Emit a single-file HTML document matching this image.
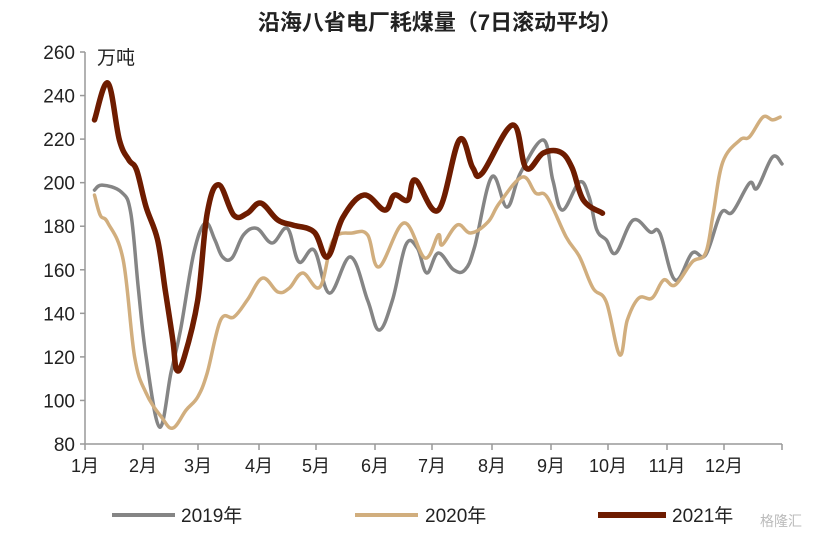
<!DOCTYPE html>
<html><head><meta charset="utf-8"><style>
body{margin:0;background:#fff;width:817px;height:537px;overflow:hidden;font-family:"Liberation Sans","Noto Sans CJK SC",sans-serif}
</style></head><body>
<svg id="chart" width="817" height="537" xmlns="http://www.w3.org/2000/svg" font-family="Liberation Sans, Noto Sans CJK SC, sans-serif">
<text x="440" y="30" text-anchor="middle" font-size="22" font-weight="bold" fill="#222">沿海八省电厂耗煤量（7日滚动平均）</text>
<text x="97" y="64" font-size="19" fill="#222">万吨</text>
<g id="axes"></g>
<g id="series"></g>
<g>
<line x1="112" y1="515" x2="175" y2="515" stroke="#858585" stroke-width="4"/>
<text x="181" y="522" font-size="19" fill="#222">2019年</text>
<line x1="355" y1="515" x2="418" y2="515" stroke="#d1ae7e" stroke-width="4"/>
<text x="425" y="522" font-size="19" fill="#222">2020年</text>
<line x1="598" y1="515" x2="666" y2="515" stroke="#6e1c00" stroke-width="6"/>
<text x="672" y="522" font-size="19" fill="#222">2021年</text>
</g>
<text x="760" y="526" font-size="14" fill="#bbb">格隆汇</text>
</svg>
<script>
const yTicks=[80,100,120,140,160,180,200,220,240,260];
const monthLabels=["1月","2月","3月","4月","5月","6月","7月","8月","9月","10月","11月","12月"];
const monthPx=[85,143,198,259,316,375,432,492,551,608,667,724,782];
const days2019=[5,9,19,24,28,32,39,45,50,57,63,68,72,77,83,90,98,106,112,120,128,139,148,154,161,168,174,179,185,193,199,204,213,221,228,240,245,250,259,264,268,273,278,287,296,301,309,318,325,333,339,348,352,360,365];
const vals2019=[196.6,198.9,195.7,186,150.7,120,87.8,112.6,132.3,167.7,181.5,173.7,165.9,165.4,176,179,172.3,179,163.6,169,149.3,165.9,146,132.3,146,171.4,170,158.5,167.7,160,160,170.5,202.6,188.8,204.4,219.6,201.2,187.4,200.3,193.4,178.3,173.7,167.7,182.8,177.3,176.9,155.3,167.7,166.8,186,186.5,199.8,197.5,211.8,208.6];
const days2020=[5,8,12,20,26,32,40,46,53,59,64,71,78,85,93,101,107,114,123,130,140,148,154,167,178,185,187,195,202,211,217,229,236,242,252,259,266,273,280,284,290,297,303,309,318,325,329,334,343,348,355,360,364];
const vals2020=[194.3,185,181.5,164.5,120,103.4,92.4,87.3,95.6,101.6,112.6,136.9,138.3,146.1,156.2,149.8,151.6,158.5,152.1,173.7,176.9,176,161.3,181.5,165.4,176,171.4,180.6,176.9,181.9,190.6,202.6,195.2,193.4,175,165.9,151.6,145.2,120.9,136.9,147,147,155.3,153,163.6,167.7,186,209.5,219.6,221,230.1,228.8,230.1];
const days2021=[5,12,18,23,27,32,38,42,46,48,52,59,64,70,78,85,92,101,109,120,127,135,146,157,162,169,173,185,196,203,208,224,231,240,249,255,261,271];
const vals2021=[228.8,245.7,219.6,210.4,205.8,188.8,173.7,150.7,127.7,114,120,146,186,199,185,186,190.6,182.8,180.5,177.3,165.9,184,194.3,187.4,194.3,192,201.2,187.4,219.6,207,204.4,226.5,206.7,213.6,214,207,192,186];
const X0=85,X1=782,Y0=444,Y1=52;
function xs(d){return X0+(X1-X0)*d/365;}
function ys(v){return Y0-(v-80)*(Y0-Y1)/180;}
const NS="http://www.w3.org/2000/svg";
const axes=document.getElementById('axes');
function mk(tag,attrs,parent){const e=document.createElementNS(NS,tag);for(const k in attrs)e.setAttribute(k,attrs[k]);parent.appendChild(e);return e;}
const ya=mk('line',{x1:X0,y1:Y1,x2:X0,y2:Y0,stroke:'#999','stroke-width':1.5},axes);


const xa=mk('line',{x1:X0,y1:Y0,x2:X1,y2:Y0,stroke:'#999','stroke-width':1.5},axes);


yTicks.forEach(v=>{
  const y=ys(v);
  mk('line',{x1:X0-5,y1:y,x2:X0,y2:y,stroke:'#999','stroke-width':1.5},axes);
  const t=mk('text',{x:X0-10,y:y+7,'text-anchor':'end','font-size':19,fill:'#222'},axes);
  t.textContent=v;
  
  
});
monthPx.forEach((px,i)=>{
  mk('line',{x1:px,y1:Y0,x2:px,y2:Y0+6,stroke:'#999','stroke-width':1.5},axes);
  if(i<monthLabels.length){
    const t=mk('text',{x:px,y:Y0+28,'text-anchor':'middle','font-size':18,fill:'#222'},axes);
    t.textContent=monthLabels[i];
    
    
  }
});
const sg=document.getElementById('series');
function smoothPath(P){
  let d='M'+P[0][0].toFixed(1)+','+P[0][1].toFixed(1);
  for(let i=0;i<P.length-1;i++){
    const p0=P[Math.max(0,i-1)],p1=P[i],p2=P[i+1],p3=P[Math.min(P.length-1,i+2)];
    const t=0.18;
    const c1=[p1[0]+(p2[0]-p0[0])*t,p1[1]+(p2[1]-p0[1])*t];
    const c2=[p2[0]-(p3[0]-p1[0])*t,p2[1]-(p3[1]-p1[1])*t];
    d+=' C'+c1[0].toFixed(1)+','+c1[1].toFixed(1)+' '+c2[0].toFixed(1)+','+c2[1].toFixed(1)+' '+p2[0].toFixed(1)+','+p2[1].toFixed(1);
  }
  return d;
}
function line(days,vals,color,w,name){
  const P=days.map((d,i)=>[xs(d),ys(vals[i])]);
  const p=mk('path',{d:smoothPath(P),fill:'none',stroke:color,'stroke-width':w,'stroke-linejoin':'round','stroke-linecap':'round'},sg);
  
  
}
line(days2019,vals2019,'#858585',3.5,'series-2019');
line(days2020,vals2020,'#d1ae7e',3.5,'series-2020');
line(days2021,vals2021,'#6e1c00',5.5,'series-2021');
</script>
</body></html>
